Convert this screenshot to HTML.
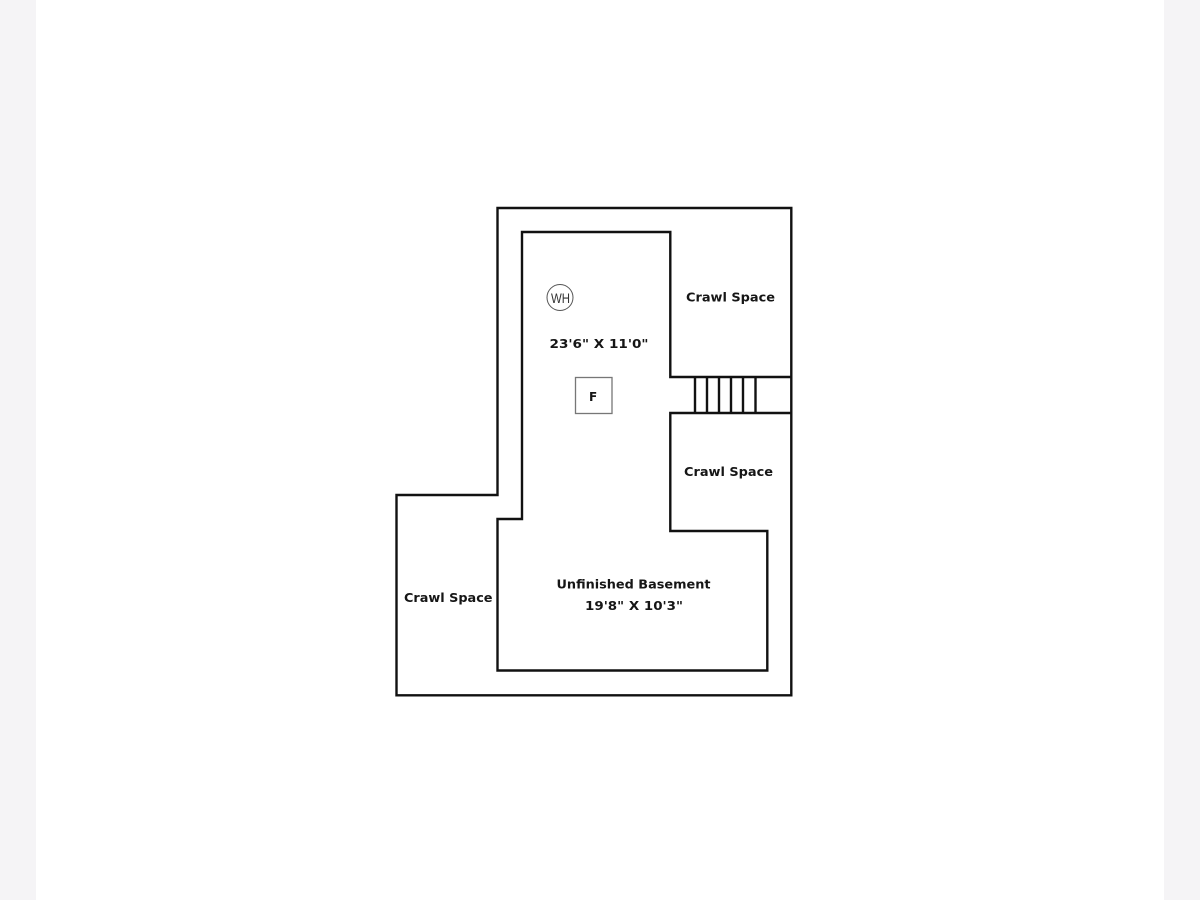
<!DOCTYPE html>
<html>
<head>
<meta charset="utf-8">
<style>
html,body{margin:0;padding:0;background:#fff;width:1200px;height:900px;overflow:hidden}
svg{display:block}
text{font-family:"DejaVu Sans","Liberation Sans",sans-serif;font-weight:700;font-size:12px;fill:#161616}
</style>
</head>
<body>
<svg width="1200" height="900" viewBox="0 0 1200 900" xmlns="http://www.w3.org/2000/svg">
<rect width="1200" height="900" fill="#fff"/>
<rect x="0" y="0" width="36" height="900" fill="#f5f4f6"/>
<rect x="1164" y="0" width="36" height="900" fill="#f5f4f6"/>
<g fill="none" stroke="#111" stroke-width="2.4">
<path d="M497.500 208H791.300V695.300H396.500V495H497.500Z"/>
<path d="M791 377H670.300V232H522V519H497.500V670.500H767.300V531H670.300V413H791"/>
<path d="M695 377V413M707 377V413M719 377V413M731 377V413M743 377V413M755.500 377V413"/>
</g>
<rect x="575.500" y="377.500" width="36.500" height="36" fill="none" stroke="#777" stroke-width="1.3"/>
<circle cx="560" cy="297.500" r="13" fill="none" stroke="#555" stroke-width="1"/>
<text x="551" y="303" textLength="19" lengthAdjust="spacingAndGlyphs" style="font-family:'Liberation Sans',sans-serif;font-weight:400;font-size:14px;fill:#333">WH</text>
<text x="589" y="401" style="font-size:12px">F</text>
<text x="686" y="301.500" textLength="89" lengthAdjust="spacingAndGlyphs">Crawl Space</text>
<text x="684" y="476" textLength="89" lengthAdjust="spacingAndGlyphs">Crawl Space</text>
<text x="404" y="602" textLength="88.500" lengthAdjust="spacingAndGlyphs">Crawl Space</text>
<text x="549.500" y="348" textLength="99" lengthAdjust="spacingAndGlyphs">23'6" X 11'0"</text>
<text x="556.500" y="588.500" textLength="154" lengthAdjust="spacingAndGlyphs">Unfinished Basement</text>
<text x="585" y="610" textLength="98" lengthAdjust="spacingAndGlyphs">19'8" X 10'3"</text>
</svg>
</body>
</html>
